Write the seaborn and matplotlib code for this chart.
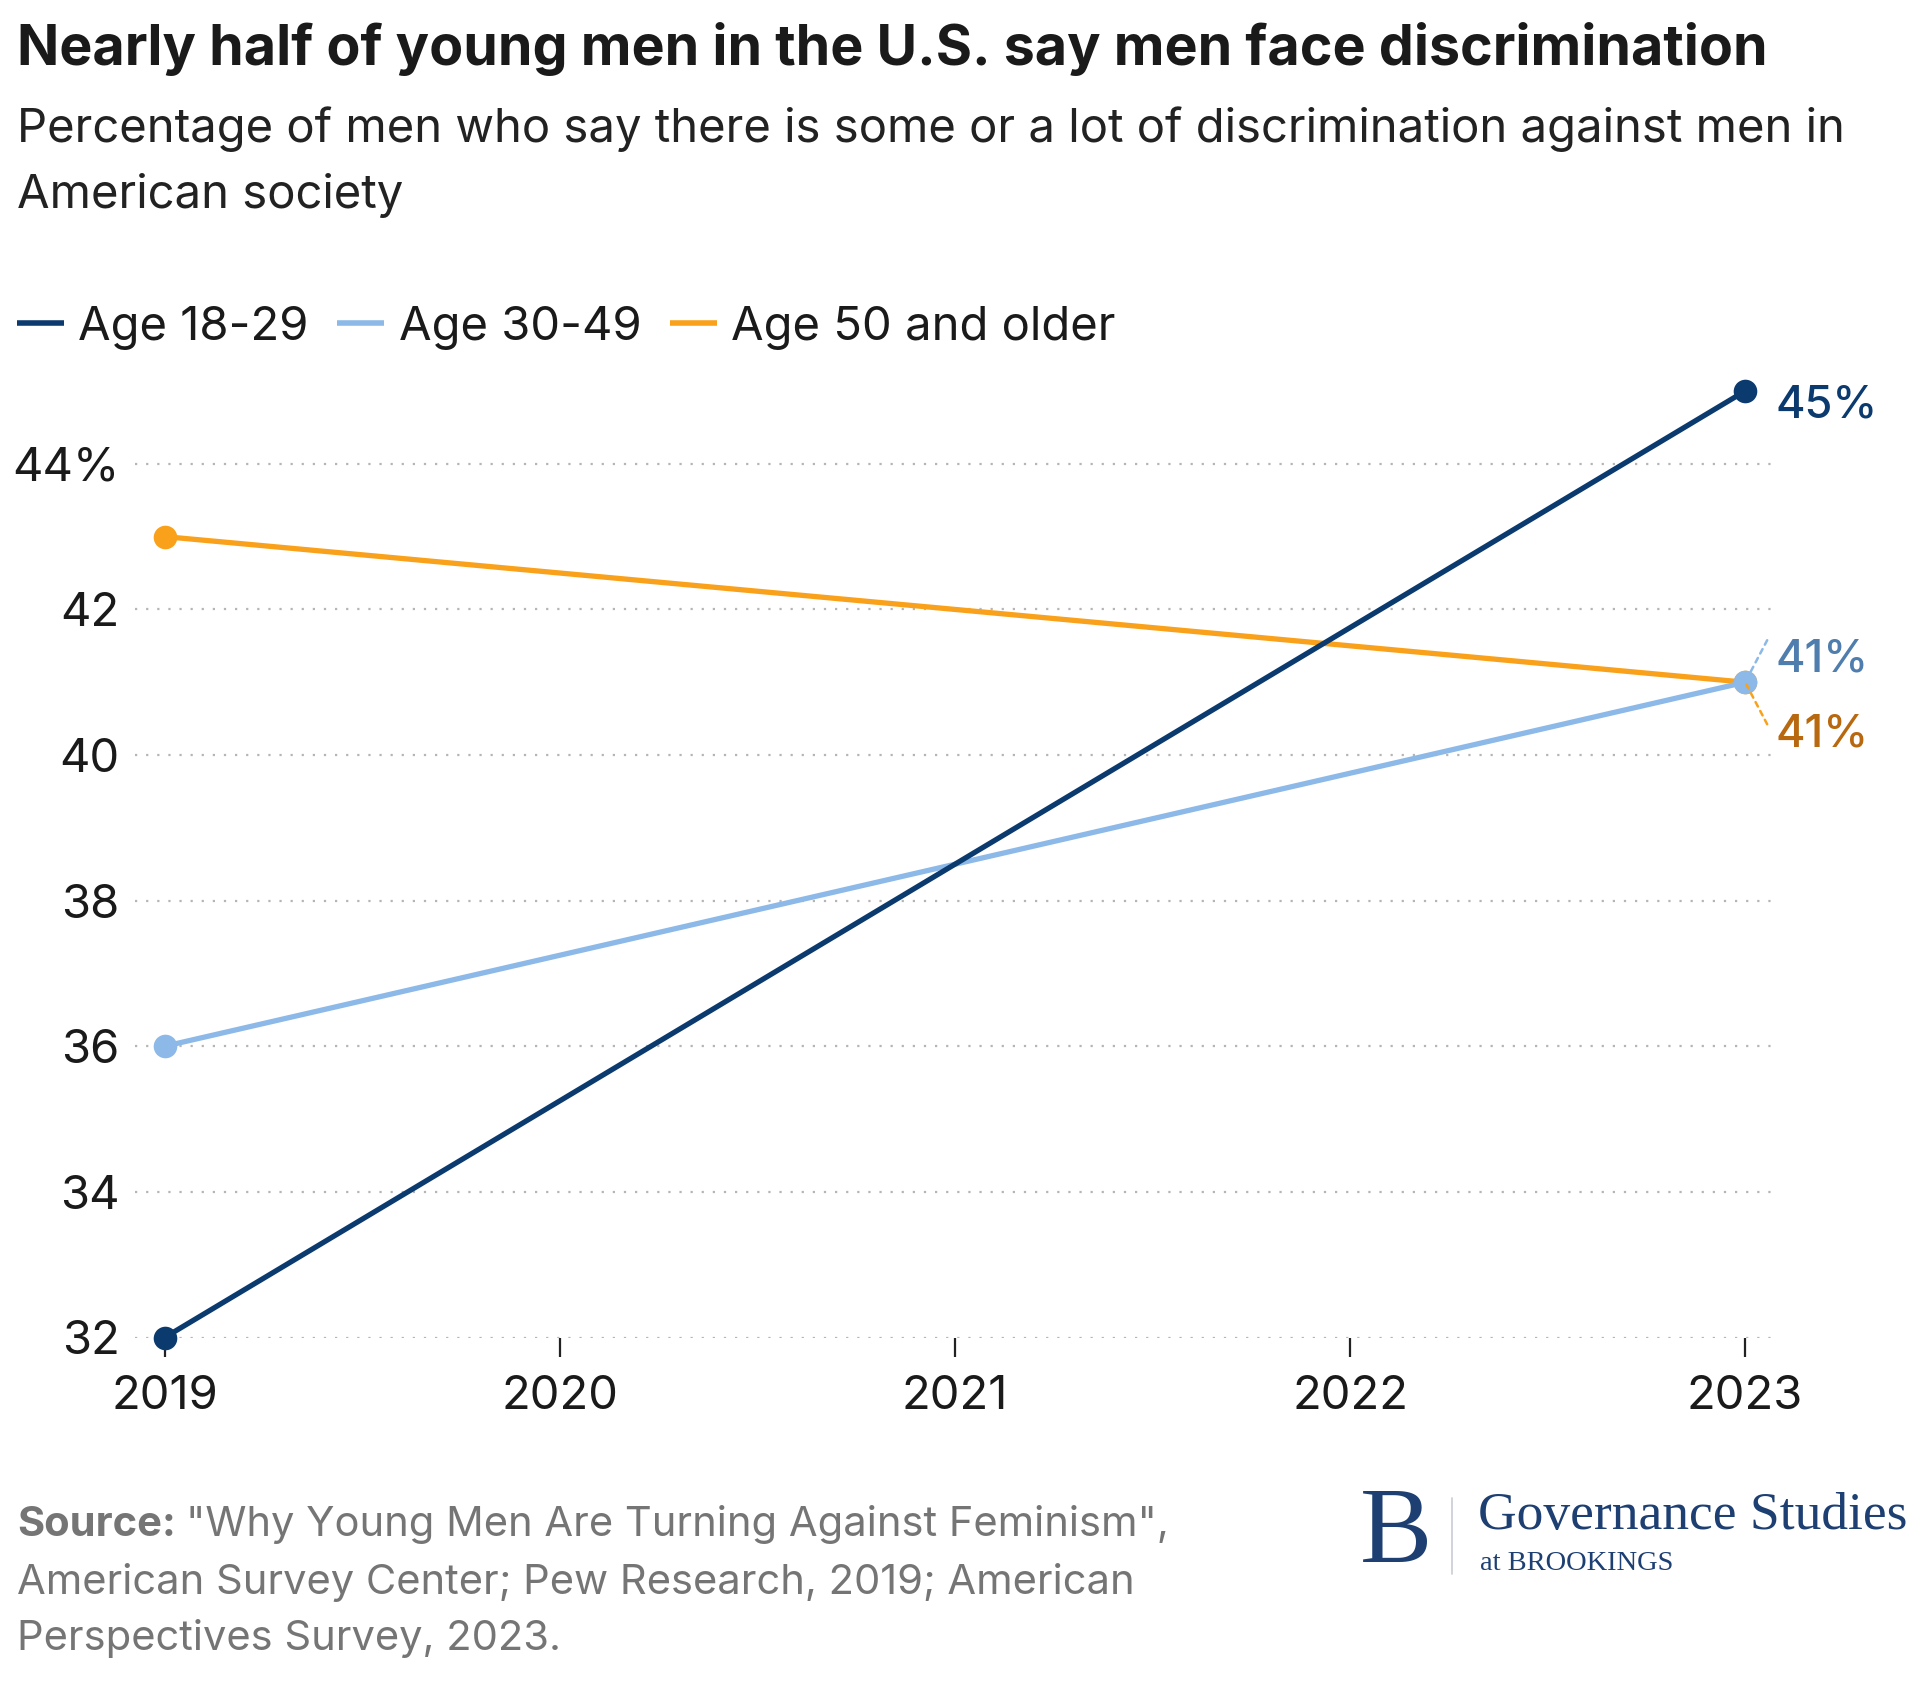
import numpy as np
import pandas as pd
import matplotlib.pyplot as plt
import seaborn as sns
from matplotlib.lines import Line2D

years = [2019, 2023]
age_18_29 = [32, 45]
age_30_49 = [36, 41]
age_50_up = [43, 41]
groups = ["Age 18-29", "Age 30-49", "Age 50 and older"]
colors = ["#0b3a6e", "#8cb9e8", "#f9a11b"]
label_colors = ["#0b3a6e", "#4f7dad", "#b8680f"]
x_ticks = [2019, 2020, 2021, 2022, 2023]
y_ticks = [32, 34, 36, 38, 40, 42, 44]
y_labels = ["32", "34", "36", "38", "40", "42", "44%"]

df = pd.DataFrame({
    "year": years * 3,
    "value": age_18_29 + age_30_49 + age_50_up,
    "group": [g for g in groups for _ in years],
})

sns.set_theme(style="white")
plt.rcParams["font.family"] = ["Inter", "DejaVu Sans"]

W, H = 1920, 1684
fig = plt.figure(figsize=(W / 100, H / 100), dpi=100)
ax = fig.add_axes([135 / W, 1 - 1337.5 / H, (1776 - 135) / W, (1337.5 - 391) / H])

# draw order: orange, light blue, navy on top
for g, c in list(zip(groups, colors))[::-1]:
    sub = df[df["group"] == g]
    sns.lineplot(data=sub, x="year", y="value", color=c, linewidth=3.8,
                 marker="o", markersize=17, markeredgewidth=0, ax=ax,
                 legend=False, clip_on=False, zorder=3)

ax.set_xlim(2018.925, 2023.078)
ax.set_ylim(32, 45)
ax.set_xticks(x_ticks)
ax.set_xticklabels([str(x) for x in x_ticks])
ax.set_yticks(y_ticks)
ax.set_yticklabels(y_labels)
ax.set_xlabel("")
ax.set_ylabel("")
for s in ax.spines.values():
    s.set_visible(False)
ax.yaxis.grid(True, linestyle=(0, (1, 4)), color="#b5b5b5", linewidth=1.6)
ax.xaxis.grid(False)
ax.tick_params(axis="x", length=14, width=1.6, color="#222222", direction="out",
               pad=13, labelsize=34, labelcolor="#1a1a1a", bottom=True)
ax.tick_params(axis="y", length=0, pad=11, labelsize=34, labelcolor="#1a1a1a")

# end labels
ax.annotate("45%", (years[-1], age_18_29[-1]), xytext=(30, -14),
            textcoords="offset pixels", ha="left", va="center",
            fontsize=32.5, fontweight="medium", color=label_colors[0])
ax.annotate("41%", (years[-1], age_30_49[-1]), xytext=(30, 23),
            textcoords="offset pixels", ha="left", va="center",
            fontsize=32.5, fontweight="medium", color=label_colors[1])
ax.annotate("41%", (years[-1], age_50_up[-1]), xytext=(30, -52),
            textcoords="offset pixels", ha="left", va="center",
            fontsize=32.5, fontweight="medium", color=label_colors[2])
ax.annotate("", (years[-1], age_30_49[-1]), xytext=(22, 42),
            textcoords="offset pixels",
            arrowprops=dict(arrowstyle="-", color=colors[1], lw=1.8,
                            linestyle=(0, (2, 2)), shrinkA=0, shrinkB=0))
ax.annotate("", (years[-1], age_50_up[-1]), xytext=(22, -42),
            textcoords="offset pixels",
            arrowprops=dict(arrowstyle="-", color=colors[2], lw=1.8,
                            linestyle=(0, (2, 2)), shrinkA=0, shrinkB=0))

# legend
handles = [Line2D([0], [0], color=c, lw=4, solid_capstyle="butt") for c in colors]
fig.legend(handles, groups, loc="center left", bbox_to_anchor=(17 / W, 1 - 328 / H),
           ncol=3, frameon=False, fontsize=34, handlelength=1.0, handletextpad=0.3,
           columnspacing=0.6, labelcolor="#1a1a1a", borderaxespad=0, borderpad=0)

# titles
fig.text(17 / W, 1 - 49 / H, "Nearly half of young men in the U.S. say men face discrimination",
         fontsize=40, fontweight="bold", color="#1a1a1a", va="center", ha="left")
fig.text(17 / W, 1 - 129 / H,
         "Percentage of men who say there is some or a lot of discrimination against men in",
         fontsize=34, color="#222222", va="center", ha="left")
fig.text(17 / W, 1 - 195 / H, "American society",
         fontsize=34, color="#222222", va="center", ha="left")

# source
src_color = "#757575"
t = fig.text(17 / W, 1 - 1525 / H, "Source:", fontsize=30, fontweight="bold",
             color=src_color, va="center", ha="left")
fig.canvas.draw()
bb = t.get_window_extent()
fig.text((bb.x1 + 10) / W, 1 - 1525 / H, "\"Why Young Men Are Turning Against Feminism\",",
         fontsize=30, color=src_color, va="center", ha="left")
fig.text(17 / W, 1 - 1582 / H, "American Survey Center; Pew Research, 2019; American",
         fontsize=30, color=src_color, va="center", ha="left")
fig.text(17 / W, 1 - 1639 / H, "Perspectives Survey, 2023.",
         fontsize=30, color=src_color, va="center", ha="left")

# logo
navy = "#1d3f72"
fig.text(1396 / W, 1 - 1536 / H, "B", fontsize=78, family="Liberation Serif",
         color=navy, va="center", ha="center")
fig.add_artist(Line2D([1452 / W, 1452 / W], [1 - 1498 / H, 1 - 1574 / H],
                      color="#c8ccd4", lw=1.2, transform=fig.transFigure))
fig.text(1478 / W, 1 - 1516 / H, "Governance Studies", fontsize=38.5,
         family="Liberation Serif", color=navy, va="center", ha="left")
fig.text(1480 / W, 1 - 1564 / H, "at BROOKINGS", fontsize=20.5,
         family="Liberation Serif", color=navy, va="center", ha="left")

fig.savefig("out.png", dpi=100, facecolor="white")
